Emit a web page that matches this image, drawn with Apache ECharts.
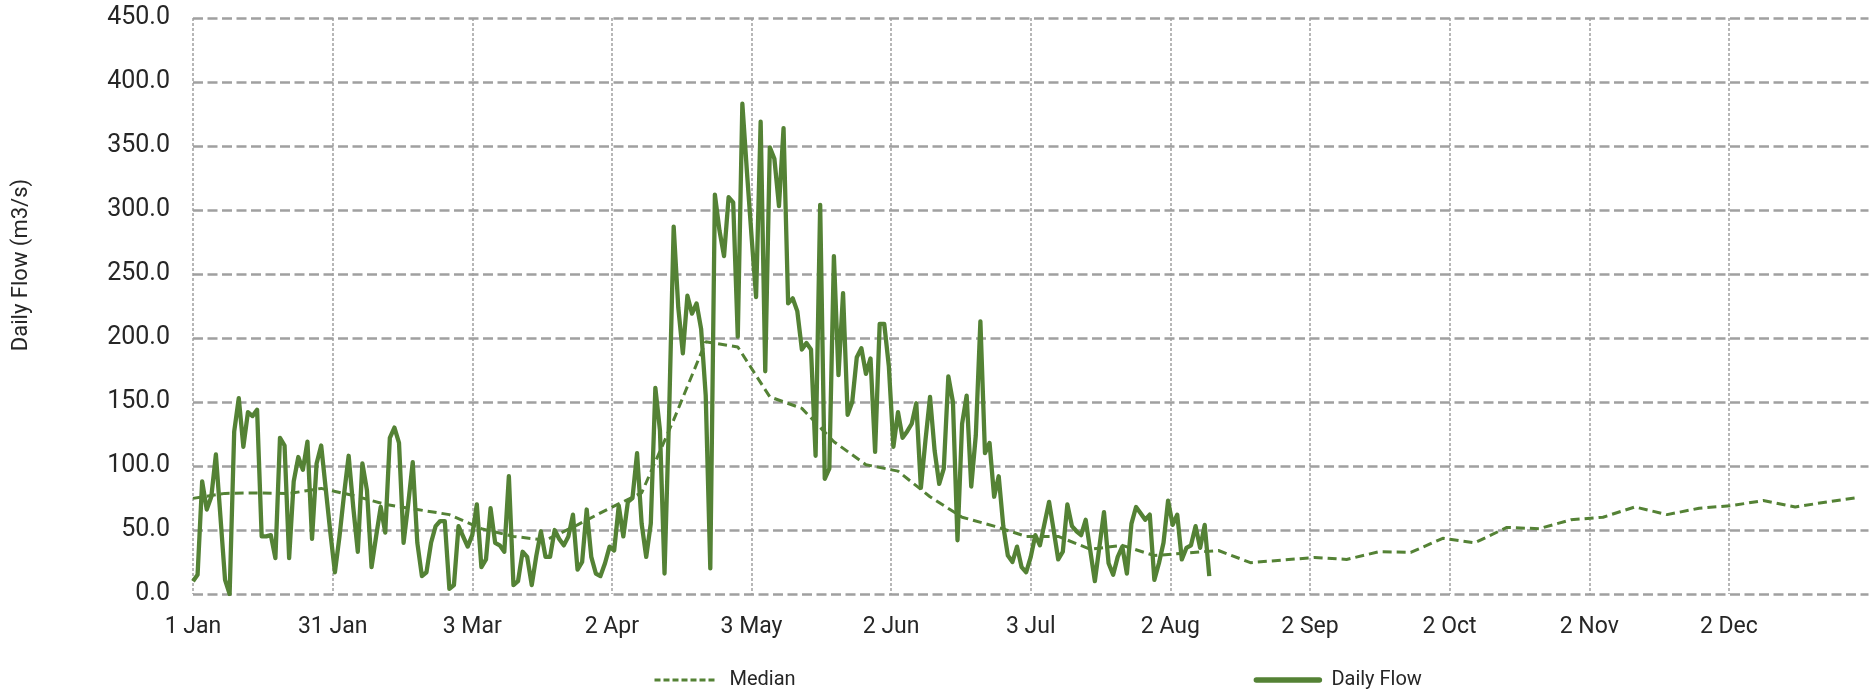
<!DOCTYPE html>
<html>
<head>
<meta charset="utf-8">
<script src="https://cdn.jsdelivr.net/npm/echarts@6/dist/echarts.min.js"></script>
<style>
    html, body { margin: 0; padding: 0; background: #ffffff; }
    #chart { width: 1874px; height: 691px; }
</style>
</head>
<body>
<div id="chart"></div>
<script>
// daily flow, one value per day starting 1 Jan (index = day of year)
const dailyFlow = [
    10, 15, 88, 66, 76, 109, 60, 11, 0, 127, 153, 115, 142, 139, 144, 45, 45, 46, 28, 122,
    116, 28, 88, 107, 97, 119, 43, 102, 116, 82, 48, 17, 45, 78, 108, 68, 33, 102, 81, 21,
    45, 68, 48, 122, 130, 118, 40, 70, 103, 40, 14, 17, 40, 53, 57, 57, 4, 7, 53, 45,
    37, 46, 70, 21, 27, 67, 40, 38, 33, 92, 7, 10, 33, 29, 7, 30, 49, 29, 29, 50,
    43, 38, 45, 62, 19, 25, 66, 29, 16, 14, 24, 37, 34, 69, 45, 72, 75, 110, 55, 29,
    55, 161, 128, 16, 140, 287, 224, 188, 233, 219, 227, 207, 155, 20, 312, 284, 264, 310, 306, 201,
    383, 330, 280, 232, 369, 174, 349, 340, 303, 364, 227, 231, 221, 191, 196, 191, 108, 304, 90, 98,
    264, 171, 235, 140, 150, 185, 192, 172, 184, 111, 211, 211, 178, 115, 142, 122, 127, 133, 149, 83,
    120, 154, 112, 86, 98, 170, 150, 42, 133, 155, 84, 124, 213, 110, 118, 76, 92, 53, 30, 25,
    37, 21, 17, 29, 46, 38, 55, 72, 50, 27, 33, 70, 53, 49, 46, 58, 34, 10, 37, 64,
    24, 15, 29, 37, 16, 55, 68, 63, 58, 62, 11, 24, 40, 73, 54, 62, 27, 36, 38, 53,
    36, 54, 14
];

// weekly median (day of year, value)
const medianDays = [
    0, 7, 14, 21, 28, 35, 42, 49, 56, 63, 70, 77, 84, 91, 98, 105, 112, 119, 126, 133,
    140, 147, 154, 161, 168, 175, 182, 189, 196, 203, 210, 217, 224, 231, 238, 245, 252, 259, 266, 273,
    280, 287, 294, 301, 308, 315, 322, 329, 336, 343, 350, 357, 364
];
const medianFlow = [
    74.7, 78.6, 79, 78.5, 82.5, 77, 70, 66, 62, 51, 45, 42, 54, 67, 79, 136, 197, 193, 154, 145,
    119, 101, 96, 76, 60, 53, 45, 45, 35, 38, 30, 32, 34, 24.5, 26.5, 28.6, 27, 33, 32.5, 43.5,
    40, 52, 51, 58, 60, 68, 62, 67, 69, 73, 68, 72, 75.5
];

// x axis ticks every 30.5 days
const xTickStep = 30.5;
const xTickLabels = ['1 Jan', '31 Jan', '3 Mar', '2 Apr', '3 May', '2 Jun', '3 Jul', '2 Aug', '2 Sep', '2 Oct', '2 Nov', '2 Dec'];
const yMax = 450;
const yStep = 50;

const green = '#548235';
const gridGrey = '#a0a0a0';
const textColor = '#262626';

const chart = echarts.init(document.getElementById('chart'));
chart.setOption({
    animation: false,
    textStyle: { fontFamily: 'Roboto' },
    grid: { left: 193, right: 5.5, top: 18, bottom: 97 },
    legend: {
        left: 648,
        top: 665,
        itemWidth: 63,
        itemHeight: 20,
        itemGap: 458,
        itemStyle: { opacity: 0 },
        textStyle: { fontSize: 20, color: textColor, padding: [0, 0, 0, 7] },
        data: [
            { name: 'Median', lineStyle: { width: 3, type: [6, 3] } },
            { name: 'Daily Flow', lineStyle: { width: 5.5, cap: 'round' } }
        ]
    },
    graphic: [{
        type: 'text',
        x: 21,
        y: 265,
        rotation: Math.PI / 2,
        style: {
            text: 'Daily Flow (m3/s)',
            fontSize: 22,
            fontFamily: 'Roboto',
            fill: textColor,
            align: 'center',
            verticalAlign: 'middle'
        }
    }],
    xAxis: {
        type: 'value',
        min: 0,
        max: xTickStep * xTickLabels.length,
        interval: xTickStep,
        axisLine: { show: false },
        axisTick: { show: false },
        axisLabel: {
            fontSize: 23,
            color: textColor,
            margin: 22,
            showMaxLabel: false,
            formatter: function (v) {
                return xTickLabels[Math.round(v / xTickStep)] || '';
            }
        },
        splitLine: {
            show: true,
            showMaxLine: false,
            lineStyle: { color: gridGrey, width: 1.5, type: [3, 2] }
        }
    },
    yAxis: {
        type: 'value',
        min: 0,
        max: yMax,
        interval: yStep,
        axisLine: { show: false },
        axisTick: { show: false },
        axisLabel: {
            fontSize: 25,
            color: textColor,
            margin: 23,
            formatter: function (v) { return v.toFixed(1); }
        },
        splitLine: {
            show: true,
            lineStyle: { color: gridGrey, width: 2.5, type: [10, 4.5] }
        }
    },
    series: [
        {
            name: 'Median',
            type: 'line',
            symbol: 'none',
            data: medianDays.map((d, i) => [d, medianFlow[i]]),
            lineStyle: { color: green, width: 3, type: [9, 5] },
            itemStyle: { color: green }
        },
        {
            name: 'Daily Flow',
            type: 'line',
            symbol: 'none',
            data: dailyFlow.map((v, i) => [i, v]),
            lineStyle: { color: green, width: 4.3, join: 'round' },
            itemStyle: { color: green }
        }
    ]
});
</script>
</body>
</html>
